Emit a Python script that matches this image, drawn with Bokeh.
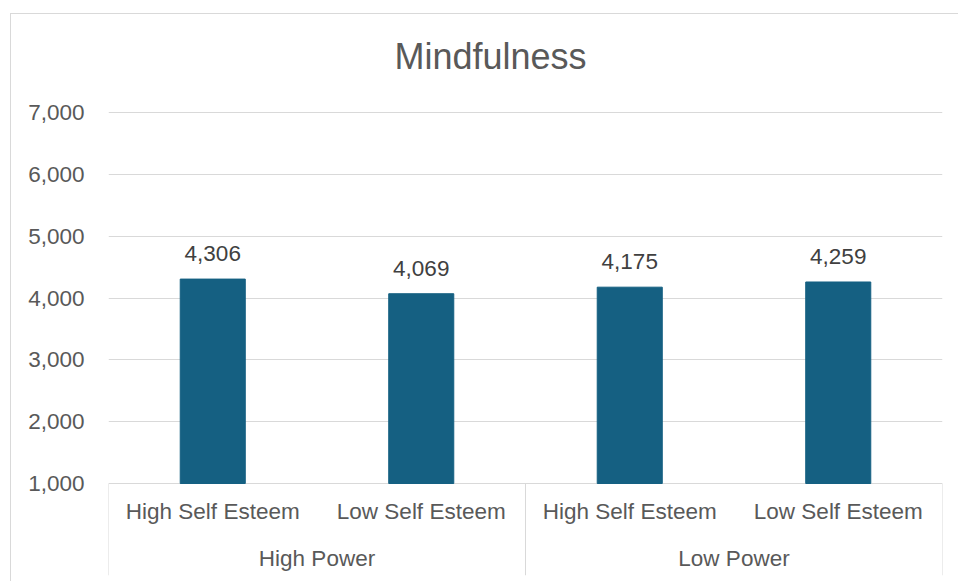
from bokeh.plotting import figure
from bokeh.models import (ColumnDataSource, Range1d, FixedTicker, NumeralTickFormatter,
                          LabelSet, Label)
from bokeh.core.properties import value
from bokeh.embed import file_html
from bokeh.resources import INLINE

# --- data -------------------------------------------------------------
title = "Mindfulness"
groups = ["High Power", "Low Power"]
subgroups = ["High Self Esteem", "Low Self Esteem"]
values = [4306, 4069, 4175, 4259]
value_labels = ["4,306", "4,069", "4,175", "4,259"]
y_ticks = [1000, 2000, 3000, 4000, 5000, 6000, 7000]

# --- styling ----------------------------------------------------------
FONT = "Liberation Sans"
FONT_SIZE = "22.5px"
BAR_COLOR = "#156082"
GRID_COLOR = "#d9d9d9"
TEXT_COLOR = "#595959"
LABEL_COLOR = "#404040"

W, H = 948, 568
LEFT, RIGHT, BOTTOM = 97, 17, 7
Y_MIN, Y_MAX = 1000, 7000
ABOVE_PX = 98            # room above the top gridline (title area)
AXIS_PX = 371            # pixel height between Y_MIN and Y_MAX
BELOW_AXIS_PX = H - BOTTOM - ABOVE_PX - AXIS_PX
units_per_px = (Y_MAX - Y_MIN) / AXIS_PX
y_start = Y_MIN - BELOW_AXIS_PX * units_per_px
y_end = Y_MAX + ABOVE_PX * units_per_px

n_sub = len(subgroups)
categories = [(g, s) for g in groups for s in subgroups]
x_centers = [i + 0.5 for i in range(len(categories))]
group_centers = [gi * n_sub + n_sub / 2 for gi in range(len(groups))]
separators = [gi * n_sub for gi in range(len(groups) + 1)]

bars = ColumnDataSource(dict(x=x_centers, top=values, label=value_labels,
                             sub=[s for _, s in categories],
                             base=[Y_MIN] * len(values)))
grp = ColumnDataSource(dict(x=group_centers, name=groups,
                            base=[Y_MIN] * len(groups)))

p = figure(width=W, height=H, output_backend="svg", toolbar_location=None,
           x_range=Range1d(0, len(categories)), y_range=Range1d(y_start, y_end),
           x_axis_location=None, min_border_left=LEFT, min_border_right=RIGHT,
           min_border_top=0, min_border_bottom=BOTTOM, tools="")
p.title = None
p.margin = (13, 0, 0, 10)
p.styles = {"border-top": f"1px solid {GRID_COLOR}",
            "border-left": f"1px solid {GRID_COLOR}"}
p.outline_line_color = None
p.background_fill_color = "white"
p.border_fill_color = "white"

# chart title, centred over the whole chart area
p.add_layout(Label(x=382, x_units="screen", y=Y_MAX + 56 * units_per_px,
                   text=title, text_align="center", text_baseline="alphabetic",
                   text_font=FONT, text_font_size="36px",
                   text_color=TEXT_COLOR))

# value axis
p.yaxis.ticker = FixedTicker(ticks=y_ticks)
p.yaxis.formatter = NumeralTickFormatter(format="0,0")
p.yaxis.axis_line_color = None
p.yaxis.major_tick_line_color = None
p.yaxis.minor_tick_line_color = None
p.yaxis.major_label_text_font = FONT
p.yaxis.major_label_text_font_size = FONT_SIZE
p.yaxis.major_label_text_color = TEXT_COLOR
p.yaxis.major_label_standoff = 18

p.ygrid.ticker = FixedTicker(ticks=y_ticks)
p.ygrid.grid_line_color = GRID_COLOR
p.ygrid.grid_line_width = 1
p.xgrid.grid_line_color = None

# bars
p.vbar(x="x", top="top", bottom=Y_MIN, width=0.312, source=bars,
       fill_color=BAR_COLOR, line_color=BAR_COLOR)

# category separators below the axis line
p.segment(x0=separators, x1=separators, y0=[Y_MIN] * len(separators),
          y1=[y_start] * len(separators), line_color=GRID_COLOR, line_width=1)

# value labels
p.add_layout(LabelSet(x="x", y="top", text="label", source=bars, y_offset=18,
                      text_align="center", text_baseline="alphabetic",
                      text_font=value(FONT), text_font_size=value(FONT_SIZE),
                      text_color=value(LABEL_COLOR)))

# two-level category labels
p.add_layout(LabelSet(x="x", y="base", text="sub", source=bars, y_offset=-35,
                      text_align="center", text_baseline="alphabetic",
                      text_font=value(FONT), text_font_size=value(FONT_SIZE),
                      text_color=value(TEXT_COLOR)))
p.add_layout(LabelSet(x="x", y="base", text="name", source=grp, y_offset=-82,
                      text_align="center", text_baseline="alphabetic",
                      text_font=value(FONT), text_font_size=value(FONT_SIZE),
                      text_color=value(TEXT_COLOR)))

open("out.html", "w").write(file_html(p, INLINE))
